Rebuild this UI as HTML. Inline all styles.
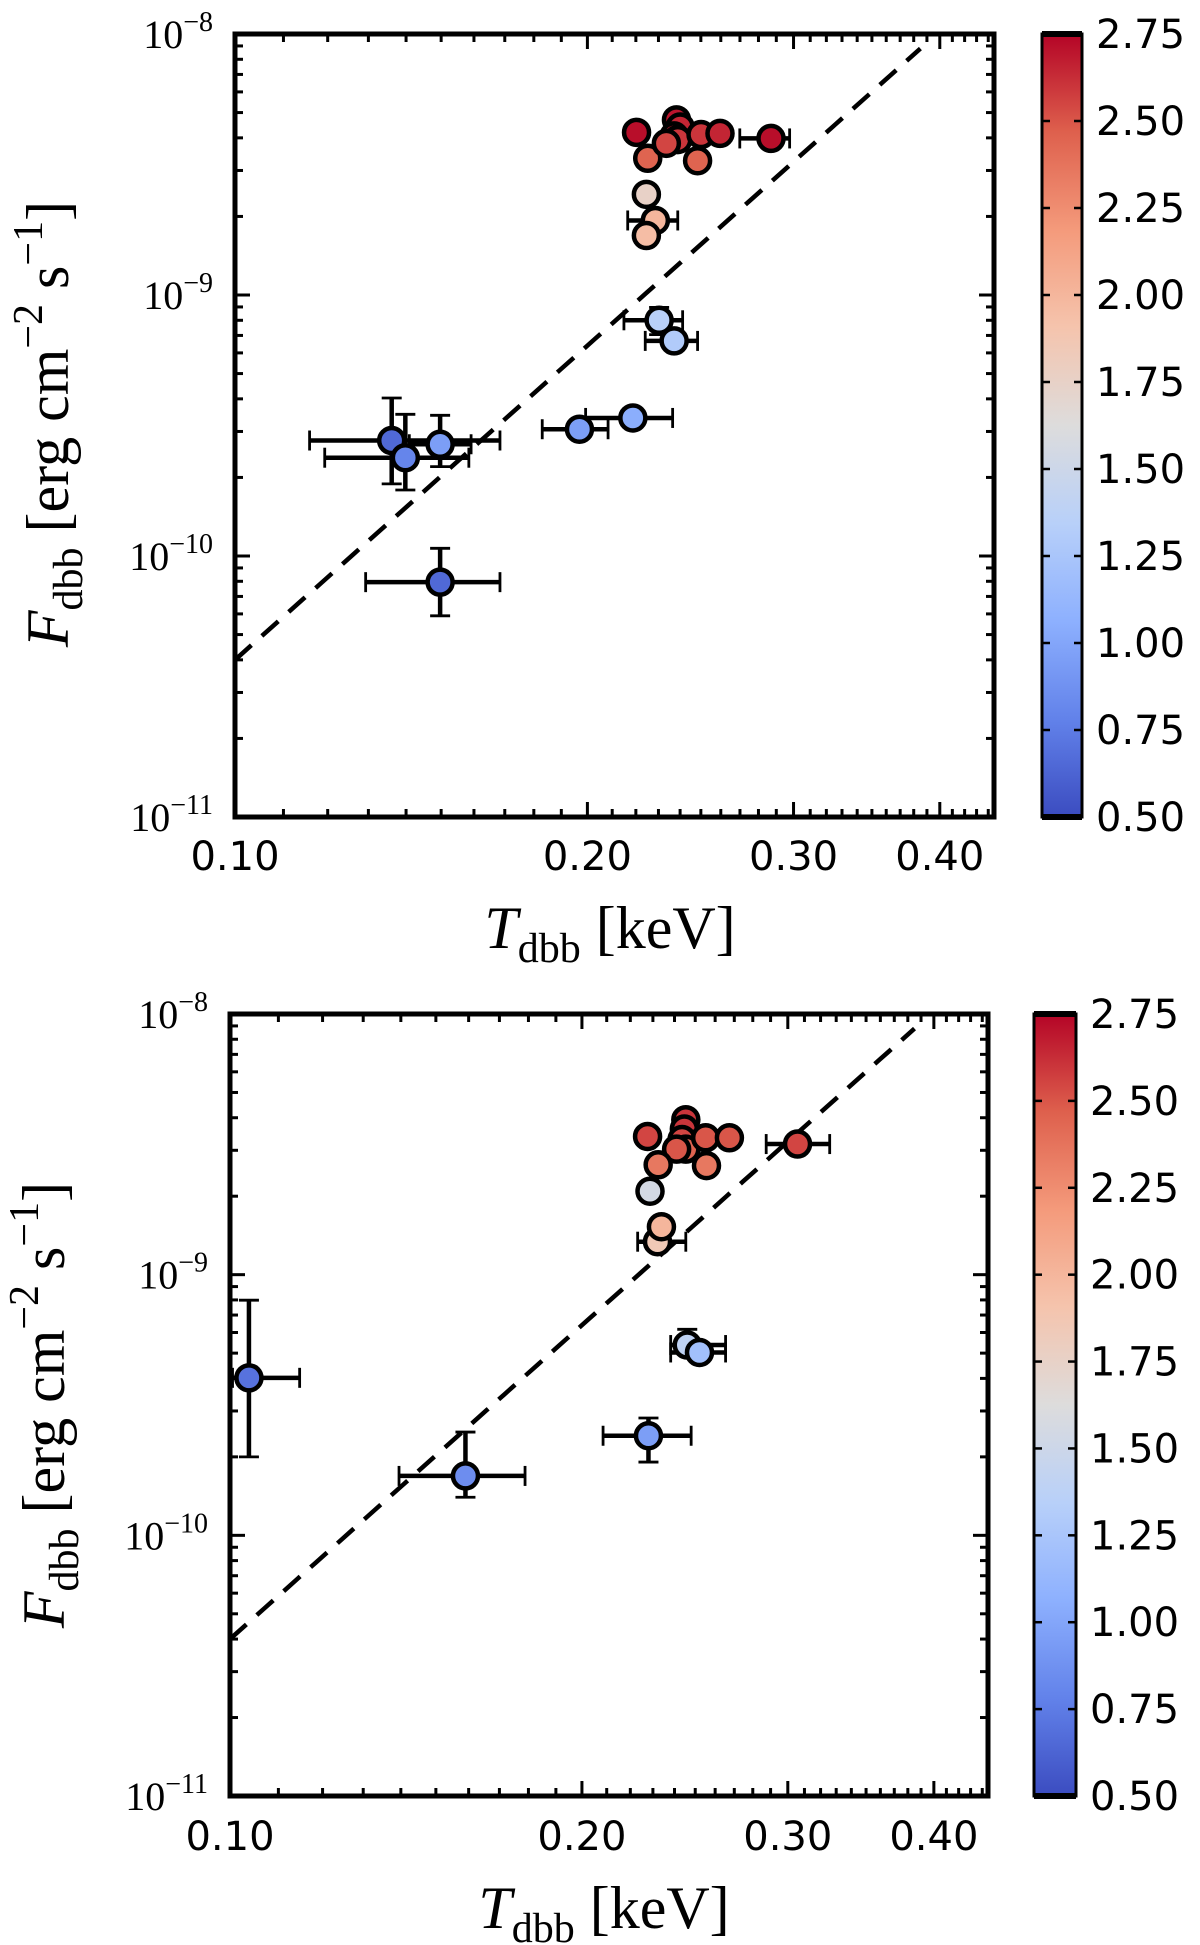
<!DOCTYPE html>
<html><head><meta charset="utf-8">
<style>
html,body{margin:0;padding:0;background:#fff;}
svg{display:block;}
</style></head>
<body>
<svg id="fig" width="1200" height="1945" viewBox="0 0 1200 1945" xmlns="http://www.w3.org/2000/svg">
<defs>
<linearGradient id="cw" x1="0" y1="1" x2="0" y2="0">
<stop offset="0" stop-color="rgb(59,76,192)"/>
<stop offset="0.125" stop-color="rgb(98,130,234)"/>
<stop offset="0.25" stop-color="rgb(141,176,254)"/>
<stop offset="0.375" stop-color="rgb(184,208,249)"/>
<stop offset="0.5" stop-color="rgb(221,220,220)"/>
<stop offset="0.625" stop-color="rgb(245,196,173)"/>
<stop offset="0.75" stop-color="rgb(244,154,123)"/>
<stop offset="0.875" stop-color="rgb(222,96,77)"/>
<stop offset="1" stop-color="rgb(180,4,38)"/>
</linearGradient>
</defs>
</svg>
<script>
// ---- Top panel data ----
const topT   = [0.2203,0.2252,0.2383,0.2400,0.2372,0.2389,0.2336,0.2501,0.2596,0.2870,0.2484,0.2246,0.2286,0.2246,0.2303,0.2372,0.2187,0.1969,0.1361,0.1398,0.1497,0.1497];
const topF   = [4.2e-9,3.34e-9,4.69e-9,4.4e-9,4.07e-9,3.94e-9,3.81e-9,4.12e-9,4.16e-9,3.98e-9,3.27e-9,2.43e-9,1.93e-9,1.69e-9,8.0e-10,6.67e-10,3.38e-10,3.06e-10,2.77e-10,2.38e-10,2.68e-10,7.94e-11];
const topC   = [2.72,2.45,2.7,2.65,2.7,2.6,2.55,2.6,2.65,2.72,2.45,1.75,2.0,1.95,1.35,1.3,1.05,0.95,0.65,0.8,0.95,0.65];
const topTlo = [null,null,null,null,null,null,null,null,null,0.2699,null,null,0.2165,null,0.2149,0.2241,0.1993,0.1830,0.1158,0.1193,0.1409,0.1293];
const topThi = [null,null,null,null,null,null,null,null,null,0.2977,null,null,0.2389,null,0.2412,0.2484,0.2365,0.2083,0.1684,0.1584,0.1591,0.1684];
const topFlo = [null,null,null,null,null,null,null,null,null,null,null,null,null,null,7.05e-10,null,null,null,1.89e-10,1.79e-10,2.2e-10,5.9e-11];
const topFhi = [null,null,null,null,null,null,null,null,null,null,null,null,null,null,8.96e-10,null,null,null,4.03e-10,3.49e-10,3.46e-10,1.07e-10];
// ---- Bottom panel data ----
const botT   = [0.1038,0.159,0.228,0.2461,0.2521,0.2321,0.2339,0.2287,0.3058,0.2276,0.2454,0.2447,0.2436,0.2454,0.241,0.2552,0.2674,0.2324,0.2556];
const botF   = [4.02e-10,1.69e-10,2.41e-10,5.37e-10,5.03e-10,1.338e-9,1.527e-9,2.09e-9,3.17e-9,3.39e-9,3.93e-9,3.62e-9,3.3e-9,3.03e-9,3.03e-9,3.35e-9,3.35e-9,2.64e-9,2.62e-9];
const botC   = [0.7,0.85,0.95,1.4,1.2,1.85,2.0,1.55,2.55,2.55,2.6,2.6,2.55,2.45,2.5,2.5,2.5,2.35,2.35];
const botTlo = [0.1005,0.1395,0.2085,0.2382,0.2382,0.2232,null,null,0.2875,null,null,null,null,null,null,null,null,null,null];
const botThi = [0.1147,0.1788,0.248,0.2654,0.2654,0.2454,null,null,0.3258,null,null,null,null,null,null,null,null,null,null];
const botFlo = [2.0e-10,1.4e-10,1.91e-10,5.0e-10,null,null,null,null,null,null,null,null,null,null,null,null,null,null,null];
const botFhi = [7.98e-10,2.49e-10,2.82e-10,6.17e-10,null,null,null,null,null,null,null,null,null,null,null,null,null,null,null];
// axis/tick labels
const xTickVals = [0.1,0.2,0.3,0.4];
const xTickLabels = ["0.10","0.20","0.30","0.40"];
const yTickExps = [-8,-9,-10,-11];
const cbTickVals = [2.75,2.5,2.25,2.0,1.75,1.5,1.25,1.0,0.75,0.5];
const cbTickLabels = ["2.75","2.50","2.25","2.00","1.75","1.50","1.25","1.00","0.75","0.50"];
// model line F = A*(T/0.1)^4
const lineA = 4.0e-11, lineTmax = 0.385;

const NS="http://www.w3.org/2000/svg";
const svg=document.getElementById('fig');
function mk(tag,attrs,parent){const e=document.createElementNS(NS,tag);for(const k in attrs)e.setAttribute(k,attrs[k]);(parent||svg).appendChild(e);return e;}
const stops=[[59,76,192],[98,130,234],[141,176,254],[184,208,249],[221,220,220],[245,196,173],[244,154,123],[222,96,77],[180,4,38]];
function cmap(v){let t=(v-0.5)/2.25;t=Math.max(0,Math.min(1,t));const p=t*8;const i=Math.min(7,Math.floor(p));const f=p-i;const a=stops[i],b=stops[i+1];return 'rgb('+a.map((c,k)=>Math.round(c+(b[k]-c)*f)).join(',')+')';}

function panel(cfg,T,F,C,Tlo,Thi,Flo,Fhi){
  const g=mk('g',{});
  
  
  const L=cfg.L,R=cfg.R,Tp=cfg.T,B=cfg.B;
  const xmin=Math.log10(0.1),xmax=Math.log10(0.445);
  const X=v=>L+(Math.log10(v)-xmin)/(xmax-xmin)*(R-L);
  const Y=v=>B-(Math.log10(v)+11)/3*(B-Tp);
  // ticks
  const tk=mk('g',{stroke:'#000','stroke-width':3},g);
  
  
  for(let d=0.1;d<0.45;d+=0.01){
    const v=Math.round(d*100)/100; if(v>0.445)break;
    const major=xTickVals.some(m=>Math.abs(m-v)<1e-9);
    const len=major?15:8;const x=X(v);
    mk('line',{x1:x,y1:B,x2:x,y2:B-len},tk);mk('line',{x1:x,y1:Tp,x2:x,y2:Tp+len},tk);
  }
  for(let e=-11;e<-8;e++){for(let m=1;m<=9;m++){const v=m*Math.pow(10,e);const y=Y(v);const len=m===1?15:8;
    mk('line',{x1:L,y1:y,x2:L+len,y2:y},tk);mk('line',{x1:R,y1:y,x2:R-len,y2:y},tk);}}
  // x tick labels
  xTickVals.forEach((v,i)=>{const t=mk('text',{x:X(v),y:cfg.xl,'text-anchor':'middle','font-family':'DejaVu Sans, sans-serif','font-size':40},g);t.textContent=xTickLabels[i];
    
    });
  yTickExps.forEach(e=>{const y=Y(Math.pow(10,e));const t=mk('text',{x:L-22,y:y+14,'text-anchor':'end','font-family':'Liberation Serif, serif','font-size':40},g);
    
    
    const a=mk('tspan',{},t);a.textContent='10';const b=mk('tspan',{dy:-17,'font-size':28},t);b.textContent='\u2212'+(-e);});
  // dashed line
  const n=[];for(let i=0;i<=40;i++){const tv=0.1*Math.pow(lineTmax/0.1,i/40);n.push(X(tv).toFixed(1)+','+Y(lineA*Math.pow(tv/0.1,4)).toFixed(1));}
  const dl=mk('polyline',{points:n.join(' '),fill:'none',stroke:'#000','stroke-width':4.5,'stroke-dasharray':'22,14'},g);
  
  
  // error bars
  const eb=mk('g',{stroke:'#000','stroke-width':4.5},g);
  
  
  T.forEach((t,i)=>{const x=X(t),y=Y(F[i]);
    if(Tlo[i]!=null){mk('line',{x1:X(Tlo[i]),y1:y,x2:X(Thi[i]),y2:y},eb);
      mk('line',{x1:X(Tlo[i]),y1:y-10,x2:X(Tlo[i]),y2:y+10,'stroke-width':2.8},eb);mk('line',{x1:X(Thi[i]),y1:y-10,x2:X(Thi[i]),y2:y+10,'stroke-width':2.8},eb);}
    if(Flo[i]!=null){mk('line',{x1:x,y1:Y(Flo[i]),x2:x,y2:Y(Fhi[i])},eb);
      mk('line',{x1:x-10,y1:Y(Flo[i]),x2:x+10,y2:Y(Flo[i]),'stroke-width':2.8},eb);mk('line',{x1:x-10,y1:Y(Fhi[i]),x2:x+10,y2:Y(Fhi[i]),'stroke-width':2.8},eb);}
  });
  // points
  T.forEach((t,i)=>{const c=mk('circle',{cx:X(t),cy:Y(F[i]),r:12.5,fill:cmap(C[i]),stroke:'#000','stroke-width':4.5},g);
    
    });
  // frame
  const fr=mk('rect',{x:L,y:Tp,width:R-L,height:B-Tp,fill:'none',stroke:'#000','stroke-width':5},g);
  
  
  // axis labels
  const xl=mk('text',{x:cfg.xlabX,y:cfg.xlabY,'text-anchor':'middle','font-family':'Liberation Serif, serif','font-size':60},g);
  
  
  let s=mk('tspan',{'font-style':'italic'},xl);s.textContent='T';
  s=mk('tspan',{'font-size':42,dy:14},xl);s.textContent='dbb';
  s=mk('tspan',{dy:-14},xl);s.textContent=' [keV]';
  const yl=mk('text',{x:0,y:0,'text-anchor':'middle','font-family':'Liberation Serif, serif','font-size':60,transform:'translate('+cfg.ylabX+','+cfg.ylabY+') rotate(-90)'},g);
  
  
  s=mk('tspan',{'font-style':'italic'},yl);s.textContent='F';
  s=mk('tspan',{'font-size':42,dy:14},yl);s.textContent='dbb';
  s=mk('tspan',{dy:-14},yl);s.textContent=' [erg cm';
  s=mk('tspan',{'font-size':42,dy:-26},yl);s.textContent='\u22122';
  s=mk('tspan',{dy:26},yl);s.textContent='  s';
  s=mk('tspan',{'font-size':42,dy:-26},yl);s.textContent='\u22121';
  s=mk('tspan',{dy:26},yl);s.textContent=']';
  // colorbar
  const cb=mk('g',{},g);
  
  
  mk('rect',{x:cfg.cbL,y:Tp,width:cfg.cbR-cfg.cbL,height:B-Tp,fill:'url(#cw)',stroke:'#000','stroke-width':3},cb);
  mk('line',{x1:cfg.cbL,y1:Tp,x2:cfg.cbR,y2:Tp,stroke:'#000','stroke-width':6},cb);
  mk('line',{x1:cfg.cbL,y1:B,x2:cfg.cbR,y2:B,stroke:'#000','stroke-width':6},cb);
  cbTickVals.forEach((v,i)=>{const y=B-(v-0.5)/2.25*(B-Tp);
    mk('line',{x1:cfg.cbR,y1:y,x2:cfg.cbR-8,y2:y,stroke:'#000','stroke-width':2.5},cb);
    mk('line',{x1:cfg.cbL,y1:y,x2:cfg.cbL+8,y2:y,stroke:'#000','stroke-width':2.5},cb);
    const t=mk('text',{x:cfg.cbR+14,y:y+14,'font-family':'DejaVu Sans, sans-serif','font-size':40},cb);t.textContent=cbTickLabels[i];
    
    });
}
panel({name:'top-panel',L:235,R:994,T:34,B:817,xl:870,xlabX:610,xlabY:948,ylabX:68,ylabY:424,cbL:1042,cbR:1082},topT,topF,topC,topTlo,topThi,topFlo,topFhi);
panel({name:'bottom-panel',L:230,R:988,T:1014,B:1796,xl:1850,xlabX:604,xlabY:1928,ylabX:64,ylabY:1405,cbL:1034,cbR:1076},botT,botF,botC,botTlo,botThi,botFlo,botFhi);
</script>
</body></html>
